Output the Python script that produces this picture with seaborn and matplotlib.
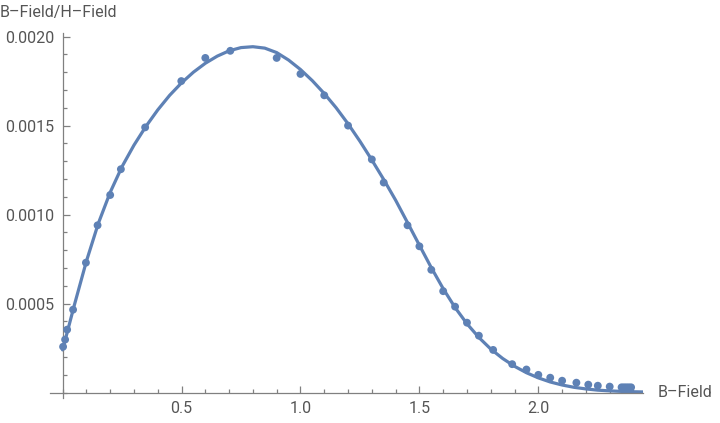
import numpy as np
import pandas as pd
import matplotlib
matplotlib.use("Agg")
import matplotlib.pyplot as plt
import seaborn as sns
from matplotlib.ticker import MultipleLocator, FormatStrFormatter

# measured points (B-Field, B-Field/H-Field)
b_meas = [0.002, 0.0105, 0.019, 0.044, 0.098, 0.147, 0.20, 0.245, 0.347, 0.499,
          0.60, 0.705, 0.90, 1.00, 1.10, 1.20, 1.30, 1.35, 1.45, 1.50,
          1.55, 1.60, 1.65, 1.70, 1.75, 1.81, 1.89, 1.95, 2.00, 2.05,
          2.10, 2.16, 2.21, 2.25, 2.30, 2.35, 2.36, 2.37, 2.38, 2.39]
ratio_meas = [0.000258, 0.000298, 0.000354, 0.000466, 0.000730, 0.000940, 0.00111, 0.001255, 0.00149, 0.00175,
              0.00188, 0.00192, 0.00188, 0.00179, 0.00167, 0.00150, 0.00131, 0.00118, 0.000940, 0.000822,
              0.000690, 0.000570, 0.000483, 0.000393, 0.000320, 0.000240, 0.000160, 0.000130, 0.000100, 0.000084,
              0.000067, 0.000056, 0.000045, 0.000039, 0.000034, 0.000030, 0.000030, 0.000030, 0.000030, 0.000030]

# fitted curve
b_fit = [0.0, 0.05, 0.1, 0.15, 0.2, 0.25, 0.3, 0.35, 0.4, 0.45,
         0.5, 0.55, 0.6, 0.65, 0.7, 0.75, 0.8, 0.85, 0.9, 0.95,
         1.0, 1.05, 1.1, 1.15, 1.2, 1.25, 1.3, 1.35, 1.4, 1.45,
         1.5, 1.55, 1.6, 1.65, 1.7, 1.75, 1.8, 1.85, 1.9, 1.95,
         2.0, 2.05, 2.1, 2.15, 2.2, 2.25, 2.3, 2.35, 2.4, 2.44]
ratio_fit = [0.000240, 0.000495, 0.000738, 0.000950, 0.001125, 0.00127, 0.00139, 0.001495, 0.001588, 0.00167,
             0.00174, 0.00180, 0.00185, 0.00189, 0.00192, 0.001938, 0.001943, 0.001935, 0.00191, 0.001868,
             0.001815, 0.001752, 0.00168, 0.00160, 0.00151, 0.001412, 0.001307, 0.001197, 0.001081, 0.000955,
             0.000828, 0.000702, 0.000584, 0.000478, 0.000387, 0.00031, 0.000245, 0.000192, 0.000148, 0.000112,
             0.000083, 0.00006, 0.000043, 0.00003, 0.000021, 0.000014, 0.00001, 0.000007, 0.000005, 0.000004]

meas = pd.DataFrame({"B": b_meas, "ratio": ratio_meas})
fit = pd.DataFrame({"B": b_fit, "ratio": ratio_fit})

sns.set_style("ticks")
plt.rcParams["font.family"] = ["Roboto", "DejaVu Sans"]

blue = "#5E81B5"
grey = "#808080"
txt = "#555555"

fig = plt.figure(figsize=(7.2, 4.23), dpi=100)
ax = fig.add_axes([50 / 720, 25 / 423, 593 / 720, 365 / 423])

sns.lineplot(data=fit, x="B", y="ratio", color=blue, linewidth=2.3, ax=ax)
sns.scatterplot(data=meas, x="B", y="ratio", color=blue, s=32, edgecolor="none", ax=ax, zorder=3)

ax.set_xlim(-0.053, 2.44)
ax.set_ylim(-0.00003, 0.00202)

for s in ["top", "right"]:
    ax.spines[s].set_visible(False)
ax.spines["left"].set_position(("data", 0))
ax.spines["bottom"].set_position(("data", 0))
for s in ["left", "bottom"]:
    ax.spines[s].set_color(grey)
    ax.spines[s].set_linewidth(0.9)

ax.xaxis.set_major_locator(MultipleLocator(0.5))
ax.xaxis.set_minor_locator(MultipleLocator(0.1))
ax.yaxis.set_major_locator(MultipleLocator(0.0005))
ax.yaxis.set_minor_locator(MultipleLocator(0.0001))
ax.xaxis.set_major_formatter(FormatStrFormatter("%.1f"))
ax.yaxis.set_major_formatter(FormatStrFormatter("%.4f"))
ax.set_xticks([0.5, 1.0, 1.5, 2.0])
ax.set_yticks([0.0005, 0.0010, 0.0015, 0.0020])

ax.tick_params(which="major", direction="in", length=5, width=0.9, color=grey,
               labelsize=11.5, labelcolor=txt, pad=6)
ax.tick_params(which="minor", direction="in", length=3, width=0.9, color=grey)

ax.set_xlabel("")
ax.set_ylabel("")
fig.text(0 / 720, 1 - 13 / 423, "B–Field/H–Field", fontsize=11.5, color=txt,
         ha="left", va="center")
fig.text(658 / 720, 1 - 392 / 423, "B–Field", fontsize=11.5, color=txt,
         ha="left", va="center")

fig.savefig("out.png", dpi=100)
